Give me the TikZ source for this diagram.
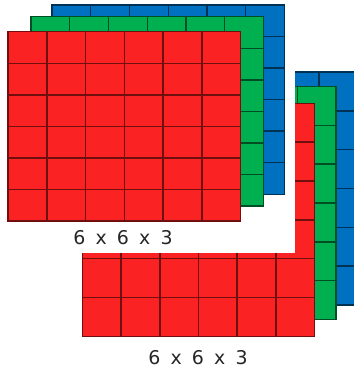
\documentclass[tikz,border=0pt]{standalone}
\usepackage{fontspec}
\newfontfamily\labelfont[WordSpace=1.7]{DejaVu Sans}

\definecolor{layerred}{RGB}{250,34,34}
\definecolor{layergreen}{RGB}{0,176,80}
\definecolor{layerblue}{RGB}{0,112,192}

\begin{document}
\begin{tikzpicture}[
    x=0.75pt, y=-0.75pt,
    cell style/.style={
        line width=1.1pt,
        line join=miter
    },
    label style/.style={
        inner sep=0pt,
        text=black!85,
        font=\labelfont\fontsize{14.2}{17}\selectfont
    }
]

% Canvas
\useasboundingbox (0,0) rectangle (353,374);

% Lower tensor (drawn back to front)
\def\cw{38.67}
\def\ch{38.83}
\foreach \col/\px/\py in {layerblue/125.5/72, layergreen/104/86.5, layerred/82.5/103.3} {
    \foreach \i in {0,...,5} {
        \foreach \j in {0,...,5} {
            \draw[cell style, fill=\col, draw=\col!45!black]
                (\px+\i*\cw, \py+\j*\ch) rectangle ++(\cw,\ch);
        }
    }
}

% Hide the part behind the upper tensor
\fill[white] (0,0) rectangle (294.5,253.3);

% Upper tensor
\def\cw{38.75}
\def\ch{31.55}
\foreach \col/\px/\py in {layerblue/52/5, layergreen/31/16.7, layerred/8.2/31.7} {
    \foreach \i in {0,...,5} {
        \foreach \j in {0,...,5} {
            \draw[cell style, fill=\col, draw=\col!45!black]
                (\px+\i*\cw, \py+\j*\ch) rectangle ++(\cw,\ch);
        }
    }
}

% Labels
\node[label style] (U) at (123,238) {6 x 6 x 3};
\node[label style] (L) at (198,358) {6 x 6 x 3};

\end{tikzpicture}
\end{document}
